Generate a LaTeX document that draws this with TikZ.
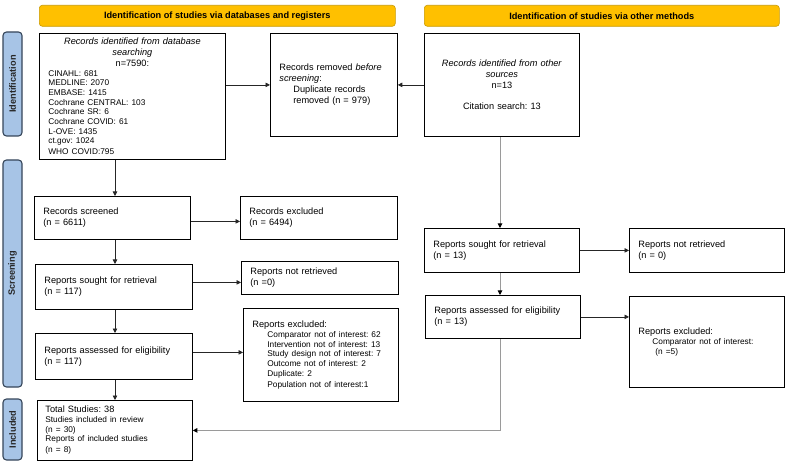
\documentclass[tikz,border=0pt]{standalone}
\usepackage{fontspec}
\setmainfont{Liberation Sans}
\usetikzlibrary{arrows.meta,calc}
\setlength{\parindent}{0pt}
\frenchspacing
\newcommand{\mainsz}{\fontsize{9.2}{11}\selectfont}
\newcommand{\smsz}{\fontsize{8.3}{9.7}\selectfont}
\definecolor{gold}{HTML}{FFC000}
\definecolor{goldline}{HTML}{C99A00}
\definecolor{sidefill}{HTML}{A7C4E6}
\definecolor{sideline}{HTML}{36465A}
\definecolor{lgray}{HTML}{9A9A9A}
\tikzset{
  box/.style={draw=black, line width=0.8pt, anchor=north west, align=left,
    inner xsep=9pt, inner ysep=2pt, font=\mainsz\frenchspacing},
  hdr/.style={draw=goldline, fill=gold, rounded corners=3pt, line width=0.6pt,
    anchor=north west, font=\mainsz\bfseries, minimum height=21pt, inner sep=0pt},
  side/.style={draw=sideline, fill=sidefill, rounded corners=3.5pt, line width=1.1pt,
    font=\mainsz\bfseries, text=black!85, rotate=90, minimum height=19pt, inner sep=0pt},
  arr/.style={line width=0.7pt, draw=black!85, -{Triangle[length=4.5pt,width=4.5pt]}},
  garr/.style={line width=0.9pt, draw=lgray, -{Triangle[length=4.5pt,width=4.5pt,color=black]}},
  gline/.style={line width=0.9pt, draw=lgray}
}
\begin{document}
\begin{tikzpicture}[x=1pt,y=-1pt]
\useasboundingbox (0,0) rectangle (787,462);
% headers
\node[hdr, minimum width=356pt] (h1) at (39,5) {Identification of studies via databases and registers};
\node[hdr, minimum width=355pt] (h2) at (424,5) {Identification of studies via other methods};
% side labels
\node[side, minimum width=104pt] (s1) at (12.5,84) {Identification};
\node[side, minimum width=227pt] (s2) at (12.5,273.5) {Screening};
\node[side, minimum width=61pt] (s3) at (12.5,429.5) {Included};
% identification row
\node[box, text width=168pt, minimum height=126pt, inner xsep=9pt] (A) at (39,33)
 {{\centering\itshape Records identified from database\\ searching\\ \upshape n=7590:\par}
  \smsz CINAHL: 681\\ MEDLINE: 2070\\ EMBASE: 1415\\ Cochrane CENTRAL: 103\\ Cochrane SR: 6\\
  Cochrane COVID: 61\\ L-OVE: 1435\\ ct.gov: 1024\\ WHO COVID:795};
\node[box, text width=109pt, minimum height=103pt] (B) at (270,33)
 {\fontsize{9.2}{10.8}\selectfont Records removed \textit{before}\\ \textit{screening}:\\
  \hspace*{14pt}Duplicate records\\ \hspace*{14pt}removed (n = 979)};
\node[box, text width=137pt, minimum height=103pt, align=center] (C) at (424,33)
 {\textit{Records identified from other}\\ \textit{sources}\\ n=13\\[10.5pt] Citation search: 13};
% screening, left
\node[box, text width=138pt, minimum height=43pt] (scr) at (34,196) {Records screened\\ (n = 6611)};
\node[box, text width=139pt, minimum height=43pt] (exc) at (240,196) {Records excluded\\ (n = 6494)};
\node[box, text width=139pt, minimum height=45pt] (sl) at (35,264) {Reports sought for retrieval\\ (n = 117)};
\node[box, text width=139pt, minimum height=33pt] (nrl) at (241,261) {Reports not retrieved\\ (n =0)\par\vspace{10pt}};
\node[box, text width=139pt, minimum height=46pt] (al) at (35,333) {Reports assessed for eligibility\\ (n = 117)};
\node[box, text width=137pt, minimum height=93pt] (exl) at (243,308)
 {Reports excluded:\par\smsz
  \hspace*{15pt}Comparator not of interest: 62\\ \hspace*{15pt}Intervention not of interest: 13\\
  \hspace*{15pt}Study design not of interest: 7\\ \hspace*{15pt}Outcome not of interest: 2\\
  \hspace*{15pt}Duplicate: 2\\ \hspace*{15pt}Population not of interest:1};
\node[box, text width=139pt, minimum height=60pt, inner xsep=8pt] (tot) at (37,400)
 {Total Studies: 38\par\smsz Studies included in review\\ (n = 30)\\ Reports of included studies\\ (n = 8)};
% right column
\node[box, text width=137pt, minimum height=44pt] (sr) at (424,228) {Reports sought for retrieval\\ (n = 13)};
\node[box, text width=137pt, minimum height=44pt] (nrr) at (629,228) {Reports not retrieved\\ (n = 0)};
\node[box, text width=137pt, minimum height=43pt] (ar) at (425,295) {Reports assessed for eligibility\\ (n = 13)};
\node[box, text width=137pt, minimum height=91pt] (exr) at (629,296)
 {Reports excluded:\par\smsz\hspace*{14pt}Comparator not of interest:\\ \hspace*{17pt}(n =5)\par\vspace{10pt}};
% guide coordinates
\coordinate (lx) at (115,0);
\coordinate (rx) at (500,0);
% connectors
\draw[arr] (A.east |- B.west) -- (B.west);
\draw[arr] (C.west) -- (B.east);
\draw[arr] (A.south -| lx) -- (scr.north -| lx);
\draw[arr] (scr.south -| lx) -- (sl.north -| lx);
\draw[arr] (sl.south -| lx) -- (al.north -| lx);
\draw[arr] (al.south -| lx) -- (tot.north -| lx);
\draw[arr] ([yshift=-3.5pt]scr.east) -- ([yshift=-3.5pt]scr.east -| exc.west);
\draw[arr] ([yshift=4.5pt]sl.east) -- ([yshift=4.5pt]sl.east -| nrl.west);
\draw[arr] ([yshift=4pt]al.east) -- ([yshift=4pt]al.east -| exl.west);
\draw[garr] (C.south -| rx) -- (sr.north -| rx);
\draw[garr] (sr.south -| rx) -- (ar.north -| rx);
\draw[arr] (sr.east) -- (nrr.west);
\draw[arr] (ar.east) -- (ar.east -| exr.west);
\draw[garr] (ar.south -| rx) |- (tot.east);
\end{tikzpicture}
\end{document}
